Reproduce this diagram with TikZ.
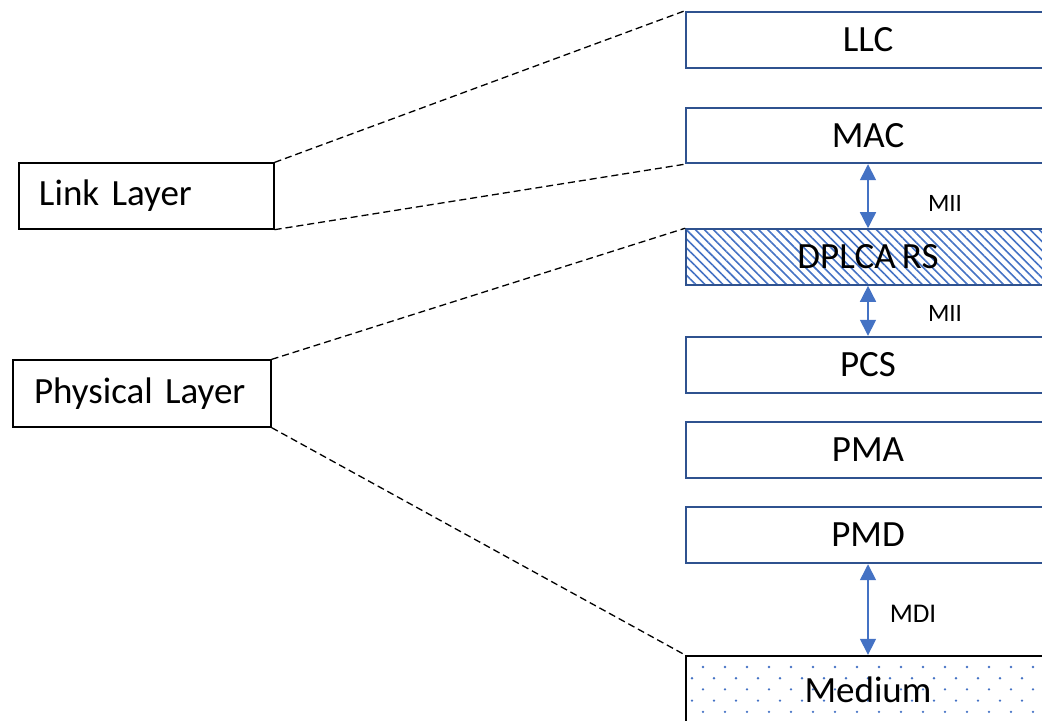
\documentclass[tikz,border=0pt]{standalone}
\usepackage{fontspec}
\setmainfont[WordSpace=0.75]{Carlito}
\usetikzlibrary{arrows.meta,patterns.meta,positioning}
\definecolor{boxblue}{HTML}{2F528F}
\definecolor{arrowblue}{HTML}{4472C4}

\tikzset{
  layer/.style={draw=boxblue, line width=1.2pt, minimum width=182pt, minimum height=28pt,
    inner sep=0pt, font=\fontsize{18.5}{22}\selectfont},
  group/.style={draw=black, line width=0.65pt, inner xsep=10pt, inner ysep=0pt,
    align=left, font=\fontsize{18.5}{22}\selectfont},
  iface/.style={draw=arrowblue, line width=0.75pt,
    {Triangle[width=8pt,length=8pt]}-{Triangle[width=8pt,length=8pt]}},
  ifacelabel/.style={font=\fontsize{12.5}{15}\selectfont},
  span/.style={line width=0.65pt, dash pattern=on 3.5pt off 2pt}
}

\begin{document}
\begin{tikzpicture}[x=0.5pt,y=-0.5pt]
\useasboundingbox (0,0) rectangle (1042,720);
\clip (0,0) rectangle (1042,720);

% dotted medium
\foreach \row in {0,...,4}
  \foreach \col in {0,...,16}
    \fill[arrowblue] ({703-11*mod(\row,2)+22*\col},{667+11.2*\row}) circle (0.65pt);

% protocol stack
\node[layer] (llc) at (868,40) {LLC};
\node[layer, minimum height=27.5pt] (mac) at (868,135.5) {MAC};
\node[layer, pattern={Lines[angle=-45,distance=3.2pt,line width=0.8pt]},
  pattern color=arrowblue] (dplca) at (868,257) {DPLCA RS};
\node[layer] (pcs) at (868,365) {PCS};
\node[layer] (pma) at (868,450) {PMA};
\node[layer] (pmd) at (868,535) {PMD};
\node[layer, draw=black, minimum height=34pt] (medium) at (868,690) {Medium};

% layer groups
\node[group, text width=107.5pt, minimum height=33pt,
  text depth=0.6ex] (link) at (146.5,196) {Link Layer};
\node[group, text width=108pt, inner xsep=10.5pt, minimum height=33.5pt,
  text depth=0.6ex] (phy) at (142,393.5) {Physical Layer};

% interfaces
\draw[iface] (mac.south) -- (dplca.north);
\draw[iface] (dplca.south) -- (pcs.north);
\draw[iface] (pmd.south) -- (medium.north);
\node[ifacelabel] (mii1) at (945,203) {MII};
\node[ifacelabel] (mii2) at (945,313) {MII};
\node[ifacelabel, font=\fontsize{13.5}{16}\selectfont] (mdi) at (913,614) {MDI};

% spans
\draw[span] (link.north east) -- (llc.north west);
\draw[span] (link.south east) -- (mac.south west);
\draw[span] (phy.north east) -- (dplca.north west);
\draw[span] (phy.south east) -- (medium.north west);
\end{tikzpicture}
\end{document}
